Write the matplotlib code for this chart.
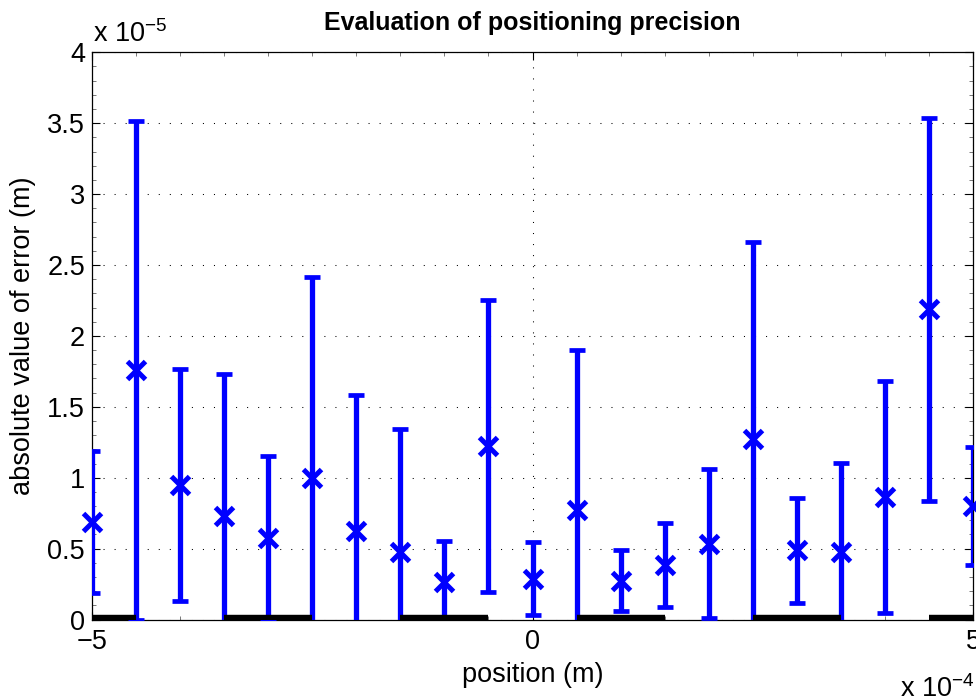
import numpy as np
import matplotlib
matplotlib.use("Agg")
import matplotlib.pyplot as plt
from matplotlib.ticker import FixedLocator, MultipleLocator, FuncFormatter

plt.rcParams['font.family'] = ['Liberation Sans', 'DejaVu Sans']
plt.rcParams['mathtext.fontset'] = 'custom'
plt.rcParams['mathtext.rm'] = 'Liberation Sans'
plt.rcParams['mathtext.it'] = 'Liberation Sans:italic'

# Measured positions (x 1e-4 m), mean absolute errors and spread (x 1e-5 m)
X_SCALE = 1e-4
Y_SCALE = 1e-5
positions = [-5.0, -4.5, -4.0, -3.5, -3.0, -2.5, -2.0, -1.5, -1.0, -0.5, 0.0,
             0.5, 1.0, 1.5, 2.0, 2.5, 3.0, 3.5, 4.0, 4.5, 5.0]
mean_error = [0.687, 1.756, 0.947, 0.728, 0.575, 0.998, 0.622, 0.479, 0.267, 1.222, 0.289,
              0.773, 0.275, 0.385, 0.534, 1.272, 0.487, 0.475, 0.866, 2.187, 0.800]
spread = [0.499, 1.758, 0.818, 1.004, 0.580, 1.420, 0.963, 0.863, 0.289, 1.030, 0.259,
          1.128, 0.216, 0.294, 0.526, 1.392, 0.373, 0.626, 0.817, 1.350, 0.415]

# Reference intervals along the zero line (x 1e-4 m)
seg_start = [-5.0, -3.5, -1.5, 0.5, 2.5, 4.5]
seg_end = [-4.5, -2.5, -0.5, 1.5, 3.5, 5.0]

x_ticks = [-5, 0, 5]
y_ticks = [0, 0.5, 1, 1.5, 2, 2.5, 3, 3.5, 4]

x = np.array(positions) * X_SCALE
y = np.array(mean_error) * Y_SCALE
e = np.array(spread) * Y_SCALE

fig = plt.figure(figsize=(9.76, 6.96), dpi=100)
ax = fig.add_axes([0.0943, 0.1099, 0.9026, 0.815])

FS = 19.5
ax.errorbar(x, y, yerr=e, fmt='none', ecolor=(0, 0, 1), elinewidth=3.8,
            capsize=6.1, capthick=3.4, zorder=3)
ax.plot(x, y, linestyle='none', marker='x', color=(0, 0, 1), markersize=13,
        markeredgewidth=3.6, clip_on=False, zorder=4)

for s, t in zip(seg_start, seg_end):
    ax.plot([s * X_SCALE, t * X_SCALE], [0, 0], color='black', linewidth=7.5,
            solid_capstyle='butt', zorder=5)

ax.set_xlim(-5 * X_SCALE, 5 * X_SCALE)
ax.set_ylim(0, 4 * Y_SCALE)

ax.xaxis.set_major_locator(FixedLocator([v * X_SCALE for v in x_ticks]))
ax.yaxis.set_major_locator(FixedLocator([v * Y_SCALE for v in y_ticks]))
ax.xaxis.set_minor_locator(MultipleLocator(0.5 * X_SCALE))
ax.yaxis.set_minor_locator(MultipleLocator(0.1 * Y_SCALE))


def fmt_scaled(scale):
    def f(v, pos):
        s = ('%g' % round(v / scale, 6))
        return s.replace('-', '\u2212')
    return f


ax.xaxis.set_major_formatter(FuncFormatter(fmt_scaled(X_SCALE)))
ax.yaxis.set_major_formatter(FuncFormatter(fmt_scaled(Y_SCALE)))

ax.tick_params(which='both', direction='in', top=True, right=True,
               labelsize=FS, color='black')
ax.tick_params(which='major', length=6, width=0.8)
ax.tick_params(which='minor', length=3, width=0.5, color='#444444')
ax.tick_params(axis='x', which='major', pad=7)
ax.tick_params(axis='y', which='major', pad=5)

ax.grid(True, which='major', linestyle=(0, (1, 9.6)), color='black', linewidth=0.75)
ax.set_axisbelow(True)
for sp in ax.spines.values():
    sp.set_linewidth(0.9)
    sp.set_color('black')

ax.set_title('Evaluation of positioning precision', fontsize=18, fontweight='bold', pad=16)
ax.set_xlabel('position (m)', fontsize=FS, labelpad=5)
ax.set_ylabel('absolute value of error (m)', fontsize=FS, labelpad=8)

# Exponent annotations for the scaled axes
ax.text(0.001, 1.0 + 10 / 568, 'x 10$^{\\mathregular{\u2212}5}$',
        transform=ax.transAxes, fontsize=FS, ha='left', va='baseline')
fig.text(900 / 976, 1 - 697 / 696, 'x 10$^{\\mathregular{\u2212}4}$',
         fontsize=FS, ha='left', va='baseline')

fig.savefig('out.png', dpi=100)
